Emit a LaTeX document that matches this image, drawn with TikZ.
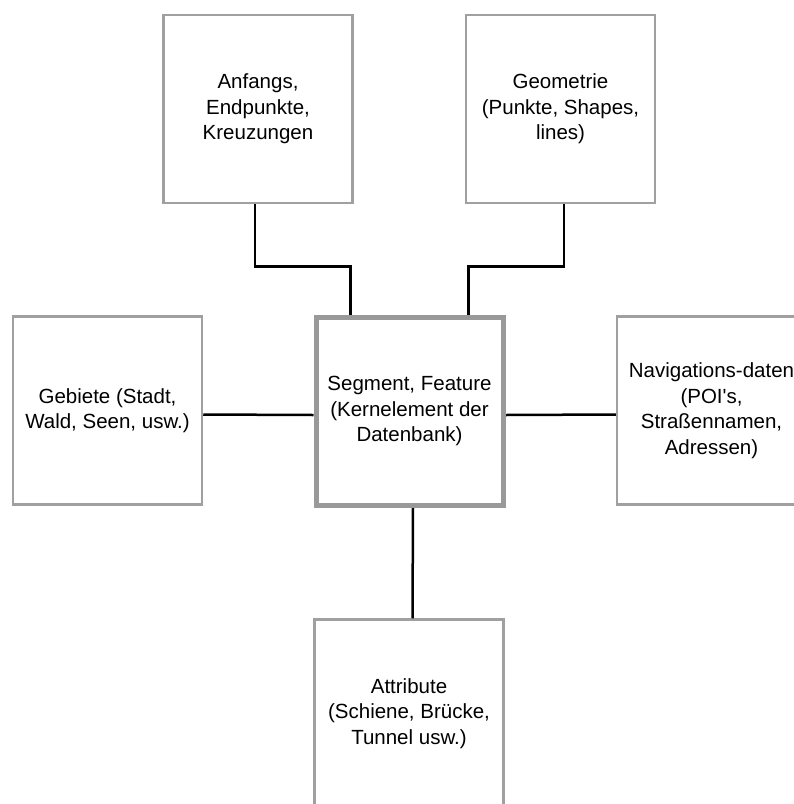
\documentclass[tikz,border=0pt]{standalone}
\usepackage{fontspec}
\setmainfont{Liberation Sans}[Ligatures=TeXOff]
\usetikzlibrary{calc}
\definecolor{boxgray}{HTML}{A0A0A0}
\definecolor{coregray}{HTML}{999999}
\begin{document}
\begin{tikzpicture}[x=1pt,y=-1pt,
  card/.style={draw=boxgray, line width=2.5pt, fill=white, minimum width=189pt,
    minimum height=188pt, inner sep=0pt, align=center,
    font=\fontsize{20.5}{25.5}\selectfont, text=black},
  core/.style={card, draw=coregray, line width=5pt, minimum width=187pt, minimum height=188pt},
  link/.style={draw=black, line width=2.5pt}]
\useasboundingbox (0,0) rectangle (794,804);
% outer boxes
\node[card] (tl) at (258,109) {Anfangs,\\Endpunkte,\\Kreuzungen};
\node[card] (tr) at (560.5,109) {Geometrie\\(Punkte, Shapes,\\lines)};
\node[card] (l) at (107.5,410.5) {Gebiete (Stadt,\\Wald, Seen, usw.)};
\node[core] (c) at (409.5,411) {Segment, Feature\\(Kernelement der\\Datenbank)};
\node[card] (r) at (711.5,410.5) {Navigations-daten\\(POI's,\\Straßennamen,\\Adressen)};
\node[card] (b) at (409,713.5) {Attribute\\(Schiene, Brücke,\\Tunnel usw.)};
% elbow joints above the core box
\coordinate (tlbend) at ($(tl.south)+(-3,62)$);
\coordinate (trbend) at ($(tr.south)+(3.5,62)$);
\coordinate (cin1) at ($(c.north west)+(37,0)$);
\coordinate (cin2) at ($(c.north east)+(-37,0)$);
% connectors
\draw[link] ([xshift=-3pt]tl.south) -- (tlbend) -| (cin1);
\draw[link] ([xshift=3.5pt]tr.south) -- (trbend) -| (cin2);
\draw[link] ([yshift=-4pt]l.east) -- ([yshift=-4pt]c.west);
\draw[link] ([yshift=-4pt]c.east) -- ([yshift=-4pt]r.west);
\draw[link] ([xshift=3.5pt]c.south) -- ([xshift=3.5pt]b.north);
% redraw the core frame over the connector ends
\node[core, fill=none] at (c) {};
\end{tikzpicture}
\end{document}
